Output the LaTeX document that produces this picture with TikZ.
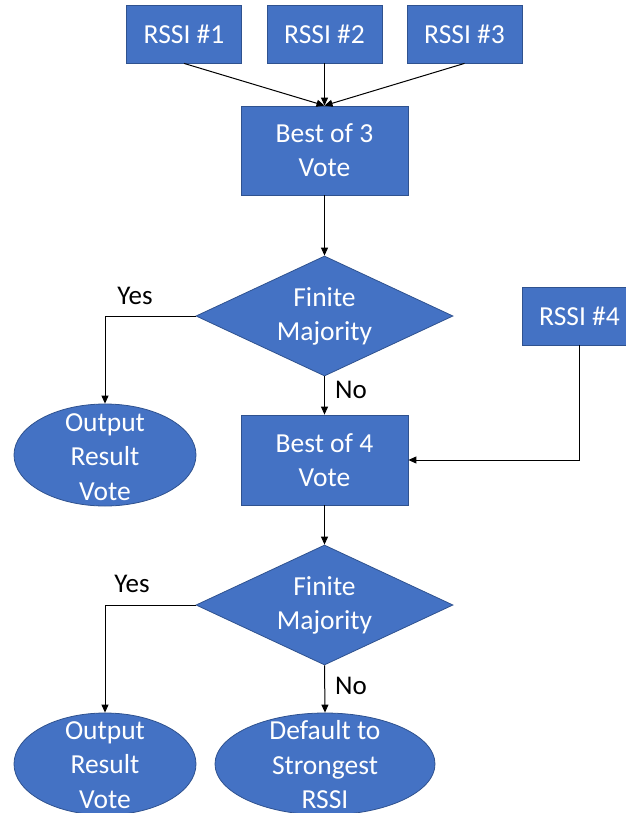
\documentclass[tikz,border=0pt]{standalone}
\usepackage{fontspec}
\setmainfont{Carlito}
\usetikzlibrary{shapes.geometric,arrows.meta}
\definecolor{boxblue}{HTML}{4472C4}
\definecolor{edgeblue}{HTML}{2F528F}
\tikzset{
  blk/.style={draw=edgeblue, line width=0.8pt, fill=boxblue, text=white, align=center, inner sep=0pt,
    font=\fontsize{27.5}{34}\selectfont},
  rbox/.style={blk, rectangle},
  dbox/.style={blk, diamond, aspect=2.14, minimum width=257pt, minimum height=120pt},
  ebox/.style={draw=edgeblue, line width=0.8pt, fill=boxblue, ellipse, inner sep=0pt},
  etext/.style={text=white, align=center, inner sep=0pt, font=\fontsize{27.5}{34.5}\selectfont},
  lbl/.style={text=black, inner sep=0pt, font=\fontsize{27}{30}\selectfont},
  arr/.style={draw=black, line width=1pt, -{Triangle[length=8pt,width=7pt]}},
}
\begin{document}
\begin{tikzpicture}[x=1pt,y=-1pt]
\useasboundingbox (0,0) rectangle (625,813);
% top inputs
\node[rbox, minimum width=115pt, minimum height=58pt] (r1) at (184,34) {RSSI \#1};
\node[rbox, minimum width=115pt, minimum height=58pt] (r2) at (324.5,34) {RSSI \#2};
\node[rbox, minimum width=115pt, minimum height=58pt] (r3) at (464.5,34) {RSSI \#3};
\node[rbox, minimum width=167pt, minimum height=89pt] (b3) at (324.5,150.5) {Best of 3\\Vote};
% first decision
\node[dbox] (d1) at (324.5,316) {Finite\\Majority};
\node[ebox, minimum width=182pt, minimum height=102pt] (e1) at (105,455) {};
\node[etext] (t1) at (105,457) {Output\\Result\\Vote};
\node[rbox, minimum width=115pt, minimum height=58pt] (r4) at (579.5,316) {RSSI \#4};
\node[rbox, minimum width=167pt, minimum height=90pt] (b4) at (324.5,460) {Best of 4\\Vote};
% second decision
\node[dbox] (d2) at (324.5,605) {Finite\\Majority};
\node[ebox, minimum width=182pt, minimum height=102pt] (e2) at (105,764) {};
\node[etext] (t2) at (105,765) {Output\\Result\\Vote};
\node[ebox, minimum width=220pt, minimum height=102pt] (e3) at (325,764) {};
\node[etext] (t3) at (325,765) {Default to\\Strongest\\RSSI};
% labels
\node[lbl] (y1) at (135,296) {Yes};
\node[lbl] (n1) at (351,390) {No};
\node[lbl] (y2) at (132,584) {Yes};
\node[lbl] (n2) at (351,686) {No};
% connectors
\draw[arr] (r1.south) -- (b3.north);
\draw[arr] (r2.south) -- (b3.north);
\draw[arr] (r3.south) -- (b3.north);
\draw[arr] (b3.south) -- (d1.north);
\draw[arr] (d1.west) -| (e1.north);
\draw[arr] (d1.south) -- (b4.north);
\draw[arr] (r4.south) |- (b4.east);
\draw[arr] (b4.south) -- (d2.north);
\draw[arr] (d2.west) -| (e2.north);
\draw[arr] (d2.south) -- (e3.north);
\end{tikzpicture}
\end{document}
